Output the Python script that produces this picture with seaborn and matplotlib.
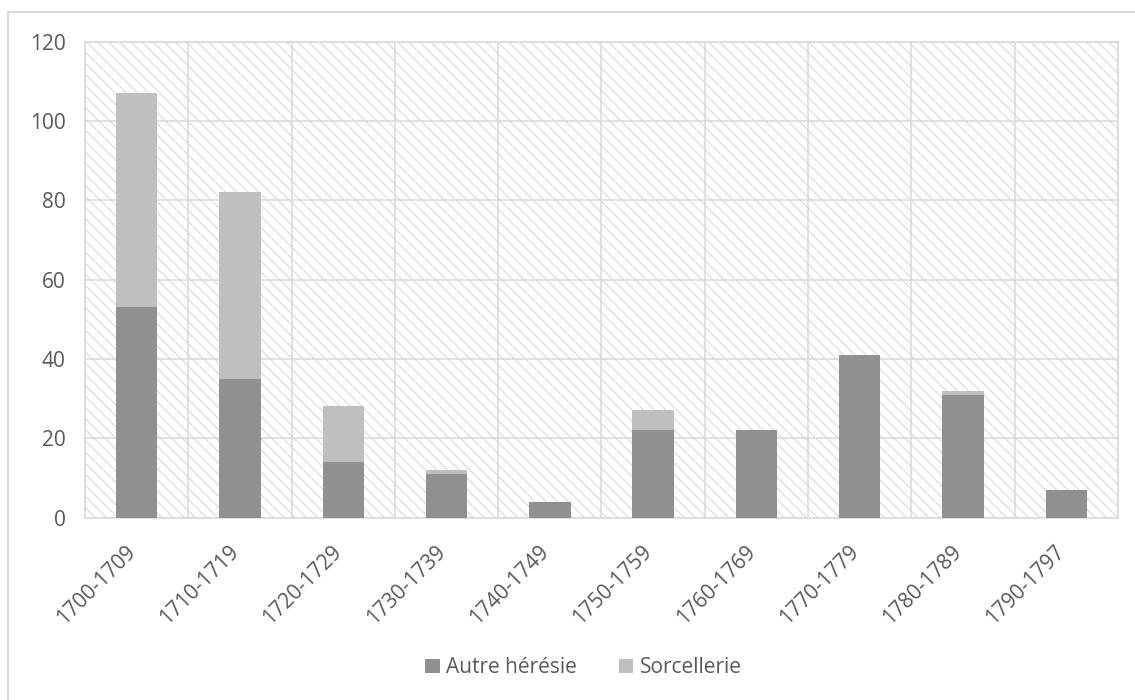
import matplotlib
matplotlib.use("Agg")
import matplotlib.pyplot as plt
import seaborn as sns
import pandas as pd
from matplotlib.lines import Line2D
from matplotlib.patches import Patch
from matplotlib.transforms import ScaledTranslation

periods = ["1700-1709", "1710-1719", "1720-1729", "1730-1739", "1740-1749",
           "1750-1759", "1760-1769", "1770-1779", "1780-1789", "1790-1797"]
autre_heresie = [53, 35, 14, 11, 4, 22, 22, 41, 31, 7]
sorcellerie = [54, 47, 14, 1, 0, 5, 0, 0, 1, 0]
yticks = [0, 20, 40, 60, 80, 100, 120]

df = pd.DataFrame({"period": periods, "autre": autre_heresie, "sorc": sorcellerie})
df["total"] = df["autre"] + df["sorc"]

sns.set_theme(style="white")
plt.rcParams["font.family"] = ["Open Sans", "DejaVu Sans"]
plt.rcParams["hatch.linewidth"] = 0.9

DARK = "#909090"
LIGHT = "#BFBFBF"
GRID = "#D9D9D9"
TEXT = "#595959"
FS = 15

fig = plt.figure(figsize=(11.35, 7), dpi=100)
ax = fig.add_axes([0.0749, 0.2607, 0.9101, 0.6797])

ax.patch.set_facecolor("white")
ax.patch.set_edgecolor("#DDDDDD")
ax.patch.set_linewidth(0)
ax.patch.set_hatch("\\\\\\")

sns.barplot(data=df, x="period", y="total", color=LIGHT, width=0.4,
            saturation=1, linewidth=0, ax=ax, zorder=3)
sns.barplot(data=df, x="period", y="autre", color=DARK, width=0.4,
            saturation=1, linewidth=0, ax=ax, zorder=4)

ax.set_xlim(-0.5, len(periods) - 0.5)
ax.set_ylim(0, 120)
ax.set_yticks(yticks)
ax.set_xticks(range(len(periods)))
ax.set_xticks([i + 0.5 for i in range(-1, len(periods))], minor=True)
ax.grid(True, axis="y", which="major", color=GRID, linewidth=1.1, zorder=1)
ax.grid(True, axis="x", which="minor", color=GRID, linewidth=1.1, zorder=1)
ax.set_axisbelow(True)
ax.set_xlabel("")
ax.set_ylabel("")
for s in ax.spines.values():
    s.set_color(GRID)
    s.set_linewidth(1.1)

ax.tick_params(axis="y", length=0, pad=14, labelsize=FS, labelcolor=TEXT)
ax.tick_params(axis="x", which="both", length=0, pad=17, labelsize=FS, labelcolor=TEXT)
ax.set_xticklabels(periods, rotation=45, ha="right", va="top")
offset = ScaledTranslation(3 / 100, 0, fig.dpi_scale_trans)
for lbl in ax.get_xticklabels():
    lbl.set_transform(lbl.get_transform() + offset)

handles = [Patch(facecolor=DARK, edgecolor="none"), Patch(facecolor=LIGHT, edgecolor="none")]
fig.legend(handles, ["Autre hérésie", "Sorcellerie"], loc="center",
           bbox_to_anchor=(0.514, 0.046), ncol=2, frameon=False,
           fontsize=FS, labelcolor=TEXT, handlelength=0.7, handleheight=0.7,
           handletextpad=0.3, columnspacing=2.0)

# outer chart border
fig.add_artist(Line2D([8 / 1135, 8 / 1135], [0, 1 - 12 / 700], transform=fig.transFigure,
                      color=GRID, linewidth=1.5))
fig.add_artist(Line2D([8 / 1135, 1], [1 - 12 / 700, 1 - 12 / 700], transform=fig.transFigure,
                      color=GRID, linewidth=1.5))

fig.savefig("out.png", dpi=100)
